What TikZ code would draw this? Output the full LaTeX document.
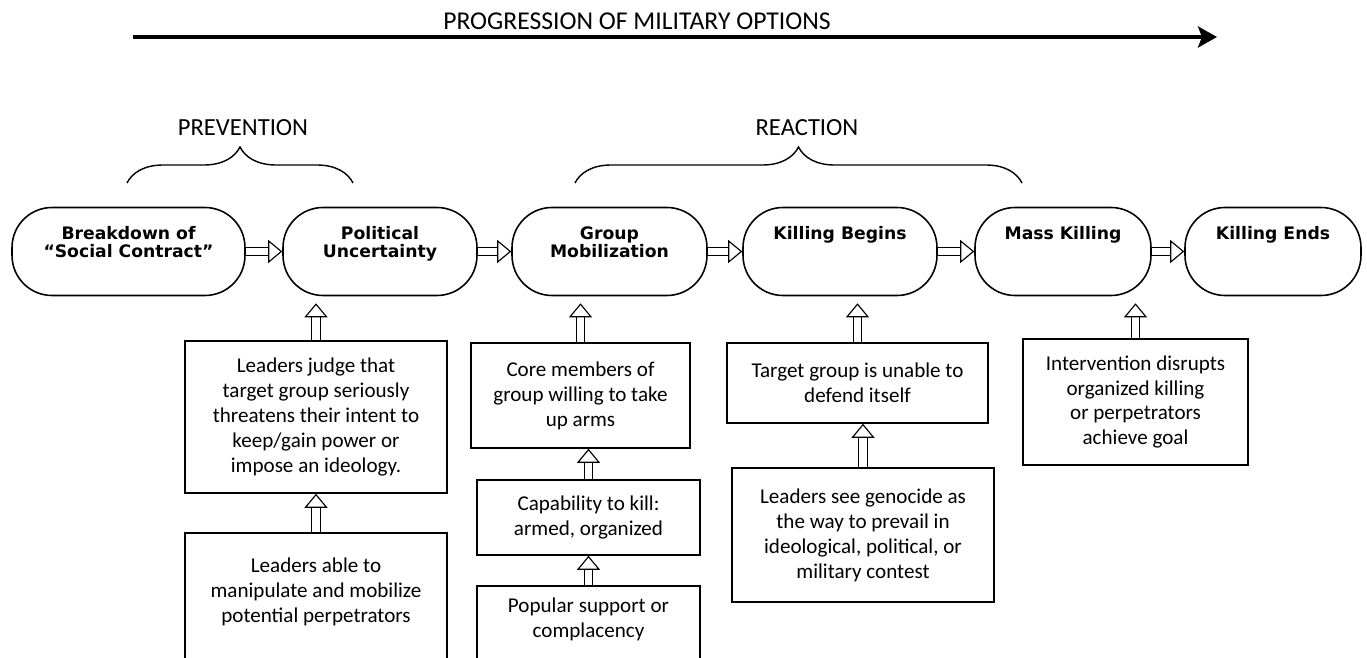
\documentclass[tikz,border=0pt]{standalone}
\usepackage{fontspec}
\setmainfont{Carlito}
\newfontfamily\stagefont{DejaVu Sans}
\usetikzlibrary{arrows.meta}
\usetikzlibrary{decorations.pathreplacing}

\tikzset{
  stage/.style={draw,line width=0.9pt,rounded corners=0.8cm,minimum height=1.76cm,inner sep=0pt},
  stagetxt/.style={anchor=north,yshift=-0.39cm,inner sep=0pt,align=center,font=\stagefont\bfseries\fontsize{9.8}{10.4}\selectfont},
  note/.style={draw,line width=0.9pt,align=center,inner sep=0pt,font=\fontsize{12}{14.2}\selectfont},
  fat/.style={double,double distance=0.15cm,line width=0.65pt,-{Triangle[open,fill=white,length=0.28cm,width=0.46cm,line width=0.65pt]}},
  phase/.style={inner sep=0pt,font=\fontsize{14}{16}\selectfont},
  curly/.style={decorate,decoration={brace,amplitude=0.72cm},line width=0.8pt}
}

\begin{document}
\begin{tikzpicture}[x=0.02cm,y=-0.02cm]
\useasboundingbox (0,0) rectangle (1367,658);
\clip (0,0) rectangle (1367,658);

% progression arrow
\node[phase,font=\fontsize{14.6}{16}\selectfont] (title) at (637,21) {PROGRESSION OF MILITARY OPTIONS};
\coordinate (p0) at (133,37);
\coordinate (p1) at (1217,37);
\draw[line width=2.2pt,-{Stealth[length=0.38cm,width=0.42cm,inset=0.08cm]}] (p0) -- (p1);

% phases
\node[phase] (prev) at (243,128) {PREVENTION};
\node[phase] (react) at (807,128) {REACTION};
\draw[curly] (127,183) -- (353,183);
\draw[curly] (575,183) -- (1022,183);

% stages
\node[stage,minimum width=4.66cm,label={[stagetxt]north:{Breakdown of\\“Social Contract”}}] (s1) at (128.5,251.5) {};
\node[stage,minimum width=3.88cm,label={[stagetxt]north:{Political\\Uncertainty}}] (s2) at (380,251.5) {};
\node[stage,minimum width=3.9cm,label={[stagetxt]north:{Group\\Mobilization}}] (s3) at (609.5,251.5) {};
\node[stage,minimum width=3.88cm,label={[stagetxt]north:{Killing Begins}}] (s4) at (840,251.5) {};
\node[stage,minimum width=3.52cm,label={[stagetxt]north:{Mass Killing}}] (s5) at (1063,251.5) {};
\node[stage,minimum width=3.52cm,label={[stagetxt]north:{Killing Ends}}] (s6) at (1273,251.5) {};

\draw[fat] (s1.east) -- (s2.west);
\draw[fat] (s2.east) -- (s3.west);
\draw[fat] (s3.east) -- (s4.west);
\draw[fat] (s4.east) -- (s5.west);
\draw[fat] (s5.east) -- (s6.west);

% conditions
\node[note,minimum width=5.24cm,minimum height=3.04cm] (j1) at (316,417) {Leaders judge that\\target group seriously\\threatens their intent to\\keep/gain power or\\impose an ideology.};
\node[note,minimum width=5.24cm,anchor=north,inner ysep=0.5cm,text depth=2cm] (j2) at (316,532) {Leaders able to\\manipulate and mobilize\\potential perpetrators};

\node[note,minimum width=4.38cm,minimum height=2.1cm] (c1) at (580.5,395.5) {Core members of\\group willing to take\\up arms};
\node[note,minimum width=4.46cm,minimum height=1.5cm] (c2) at (588.5,517.5) {Capability to kill:\\armed, organized};
\node[note,minimum width=4.46cm,anchor=north,inner ysep=0.24cm,text depth=2cm] (c3) at (588.5,585) {Popular support or\\complacency};

\node[note,minimum width=5.22cm,minimum height=1.6cm] (t1) at (857.5,383) {Target group is unable to\\defend itself};
\node[note,minimum width=5.24cm,minimum height=2.68cm] (t2) at (863,535) {Leaders see genocide as\\the way to prevail in\\ideological, political, or\\military contest};

\node[note,minimum width=4.5cm,minimum height=2.52cm] (m1) at (1135.5,402) {Intervention disrupts\\organized killing\\or perpetrators\\achieve goal};

\draw[fat,shorten >=0.14cm] (j1.north) -- (j1.north |- s2.south);
\draw[fat,shorten >=0.14cm] (c1.north) -- (c1.north |- s3.south);
\draw[fat,shorten >=0.14cm] (t1.north) -- (t1.north |- s4.south);
\draw[fat,shorten >=0.14cm] (m1.north) -- (m1.north |- s5.south);

\draw[fat] (j2.north) -- (j1.south);
\draw[fat] (c2.north) -- (c2.north |- c1.south);
\draw[fat] (c3.north) -- (c2.south);
\draw[fat] (t2.north) -- (t2.north |- t1.south);
\end{tikzpicture}
\end{document}
